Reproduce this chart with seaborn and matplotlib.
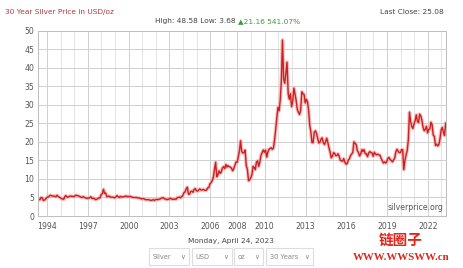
import numpy as np
import pandas as pd
import matplotlib
matplotlib.use("Agg")
import matplotlib.pyplot as plt
import matplotlib.dates as mdates
from matplotlib.patches import Rectangle
import seaborn as sns

# ---- data (monthly silver price, USD/oz) ----
prices_1990s = [
    4.1, 4.5, 4.4, 5.0, 4.9, 4.2, 4.3, 4.6, 5.0,                      # 1993 Apr-Dec
    5.1, 5.3, 5.6, 5.5, 5.4, 5.4, 5.3, 5.2, 5.6, 5.3, 5.1, 4.9,       # 1994
    4.7, 4.6, 4.5, 5.3, 5.5, 5.1, 5.1, 5.3, 5.4, 5.3, 5.3, 5.2,       # 1995
    5.5, 5.6, 5.5, 5.4, 5.3, 5.1, 5.0, 5.2, 5.1, 4.9, 4.8, 4.8,       # 1996
    4.8, 5.0, 5.2, 4.7, 4.8, 4.7, 4.4, 4.5, 4.7, 4.9, 4.9, 5.8,       # 1997
    6.0, 7.2, 6.1, 6.2, 5.2, 5.3, 5.4, 5.1, 5.1, 5.1, 5.0, 4.9,       # 1998
    5.2, 5.5, 5.2, 5.0, 5.3, 5.1, 5.2, 5.2, 5.3, 5.4, 5.2, 5.3,       # 1999
]
prices_2000s = [
    5.2, 5.3, 5.1, 5.0, 5.0, 5.0, 5.0, 4.9, 4.9, 4.8, 4.7, 4.6,       # 2000
    4.7, 4.6, 4.4, 4.4, 4.4, 4.4, 4.3, 4.2, 4.3, 4.4, 4.2, 4.4,       # 2001
    4.5, 4.4, 4.5, 4.6, 4.8, 4.9, 4.9, 4.6, 4.6, 4.4, 4.5, 4.6,       # 2002
    4.8, 4.6, 4.5, 4.5, 4.6, 4.5, 4.9, 5.0, 5.1, 4.9, 5.2, 5.5,       # 2003
    6.3, 6.5, 7.3, 7.8, 5.9, 5.9, 6.6, 6.7, 6.4, 7.2, 7.4, 6.8,       # 2004
    6.7, 7.0, 7.3, 7.0, 7.0, 7.2, 7.0, 6.9, 7.0, 7.6, 7.7, 8.7,       # 2005
    9.0, 9.6, 10.4, 12.6, 14.5, 10.6, 11.1, 12.2, 11.5, 11.9, 13.0, 13.3,  # 2006
    12.8, 13.9, 13.2, 13.6, 13.3, 13.2, 12.9, 12.2, 12.8, 13.7, 14.6, 14.5,  # 2007
    16.0, 17.6, 20.3, 17.4, 17.0, 17.1, 17.8, 13.6, 12.5, 9.5, 9.8, 10.3,  # 2008
    11.2, 13.4, 13.1, 12.5, 14.5, 14.9, 13.4, 14.6, 16.4, 17.1, 17.8, 17.2,  # 2009
]
prices_2010s = [
    17.8, 15.9, 17.1, 18.0, 18.2, 18.4, 18.0, 18.3, 20.6, 23.4, 26.6, 29.3,  # 2010
    28.4, 31.5, 36.5, 47.5, 37.0, 35.8, 38.5, 41.5, 33.0, 31.5, 33.0, 29.5,  # 2011
    31.0, 34.5, 33.0, 31.2, 28.8, 28.0, 27.4, 28.6, 33.5, 33.0, 32.8, 30.5,  # 2012
    31.5, 30.8, 28.7, 24.5, 22.8, 19.8, 19.8, 22.6, 23.0, 22.3, 20.9, 19.7,  # 2013
    19.9, 20.8, 21.1, 19.8, 19.3, 20.0, 21.0, 19.8, 18.4, 17.2, 15.7, 16.1,  # 2014
    17.1, 16.9, 16.3, 16.3, 16.8, 16.1, 15.0, 14.9, 14.8, 15.5, 14.5, 14.0,  # 2015
    14.1, 15.1, 15.4, 16.3, 16.7, 17.2, 20.0, 19.6, 19.3, 17.6, 17.1, 16.2,  # 2016
    16.8, 17.9, 17.4, 17.9, 16.8, 16.8, 16.0, 17.0, 17.4, 17.1, 17.0, 16.1,  # 2017
    17.2, 16.7, 16.5, 16.7, 16.5, 16.4, 15.6, 14.9, 14.3, 14.6, 14.3, 14.7,  # 2018
    15.6, 15.8, 15.2, 15.0, 14.6, 15.1, 15.6, 17.3, 18.0, 17.5, 17.1, 17.1,  # 2019
]
prices_2020s = [
    17.9, 17.9, 12.5, 15.0, 16.4, 17.7, 20.5, 28.0, 25.5, 24.2, 23.6, 24.8,  # 2020
    25.8, 27.3, 25.6, 25.2, 27.5, 27.0, 25.9, 23.9, 23.0, 23.4, 24.2, 22.4,  # 2021
    23.4, 23.5, 25.3, 24.6, 21.8, 21.5, 19.0, 19.4, 18.9, 19.3, 21.0, 23.3,  # 2022
    23.9, 22.5, 21.7, 25.1,                                                  # 2023 Jan-Apr
]
start_date = "1993-04-24"
end_date = "2023-04-24"
tick_years = [1994, 1997, 2000, 2003, 2006, 2008, 2010, 2013, 2016, 2019, 2022]
y_ticks = [0, 5, 10, 15, 20, 25, 30, 35, 40, 45, 50]

title_text = "30 Year Silver Price in USD/oz"
stats_text = "High: 48.58 Low: 3.68 "
change_text = "\u25b221.16 541.07%"
last_close_text = "Last Close: 25.08"
date_text = "Monday, April 24, 2023"
source_text = "silverprice.org"
dropdowns = ["Silver", "USD", "oz", "30 Years"]

values = prices_1990s + prices_2000s + prices_2010s + prices_2020s
dates = pd.date_range(start_date, periods=len(values), freq=pd.DateOffset(months=1))
df = pd.DataFrame({"date": dates, "price": values})

# ---- figure ----
sns.set_theme(style="white")
plt.rcParams["font.family"] = ["DejaVu Sans"]
W, H = 463, 268
fig = plt.figure(figsize=(W / 100, H / 100), dpi=100)
fig.patch.set_facecolor("white")
ax = fig.add_axes([37.7 / W, 1 - 216 / H, (445.7 - 37.7) / W, (216 - 30.7) / H])
ax.set_facecolor("white")

sns.lineplot(data=df, x="date", y="price", ax=ax, color="#f2a5a5", lw=2.6, alpha=0.7)
sns.lineplot(data=df, x="date", y="price", ax=ax, color="#cc1f1f", lw=1.0)

ax.set_xlim(pd.Timestamp(start_date), pd.Timestamp(end_date))
ax.set_ylim(0, 50)
ax.set_yticks(y_ticks)
ax.set_yticklabels([str(v) for v in y_ticks])
ax.set_xticks([pd.Timestamp(f"{y}-01-01") for y in tick_years])
ax.set_xticklabels([str(y) for y in tick_years])
ax.xaxis.set_minor_locator(mdates.YearLocator())
ax.set_xlabel("")
ax.set_ylabel("")

ax.grid(True, which="major", axis="both", color="#cfcfcf", lw=0.7)
ax.grid(True, which="minor", axis="x", color="#e3e3e3", lw=0.7)
ax.set_axisbelow(True)
for s in ax.spines.values():
    s.set_color("#bdbdbd")
    s.set_linewidth(0.7)
ax.tick_params(axis="both", which="both", length=0, labelsize=5.6,
               labelcolor="#555555", pad=2.5)
ax.tick_params(axis="x", pad=4)

ax.text(0.995, 0.02, source_text, transform=ax.transAxes, ha="right",
        va="bottom", fontsize=5.6, color="#555555")

def fx(px):
    return px / W

def fy(py):
    return 1 - py / H

fig.text(fx(5), fy(12.3), title_text, fontsize=5.3, color="#b03a3a",
         ha="left", va="center")
fig.text(fx(444), fy(12.3), last_close_text, fontsize=5.3, color="#444444",
         ha="right", va="center")
t1 = fig.text(fx(155), fy(20.7), stats_text, fontsize=5.3, color="#444444",
              ha="left", va="center")
renderer = fig.canvas.get_renderer()
bb = t1.get_window_extent(renderer=renderer)
fig.text(bb.x1 / W, fy(20.7), change_text, fontsize=5.3, color="#3f9a3f",
         ha="left", va="center")

fig.text(fx(231), fy(240.7), date_text, fontsize=5.3, color="#444444",
         ha="center", va="center")

boxes = [(149, 189), (191.7, 231.7), (234, 263), (265.7, 313.3)]
for (x0, x1), label in zip(boxes, dropdowns):
    fig.patches.append(Rectangle((fx(x0), fy(265)), fx(x1 - x0), (265 - 248.3) / H,
                                 transform=fig.transFigure, fill=False,
                                 edgecolor="#dddddd", lw=0.8))
    fig.text(fx(x0 + 4), fy(256.7), label, fontsize=4.8, color="#888888",
             ha="left", va="center")
    fig.text(fx(x1 - 4), fy(256.7), "\u2228", fontsize=4.8, color="#888888",
             ha="right", va="center")

fig.text(fx(401), fy(240), "链圈子", fontsize=10.5, color="#e3241b",
         ha="center", va="center", family=["Noto Sans CJK SC", "DejaVu Sans"],
         fontweight="bold")
fig.text(fx(401), fy(257.5), "WWW.WWSWW.cn", fontsize=7.8, color="#e3241b",
         ha="center", va="center", family=["Liberation Serif", "DejaVu Serif"],
         fontweight="bold")

fig.savefig("out.png", dpi=100, facecolor="white")
